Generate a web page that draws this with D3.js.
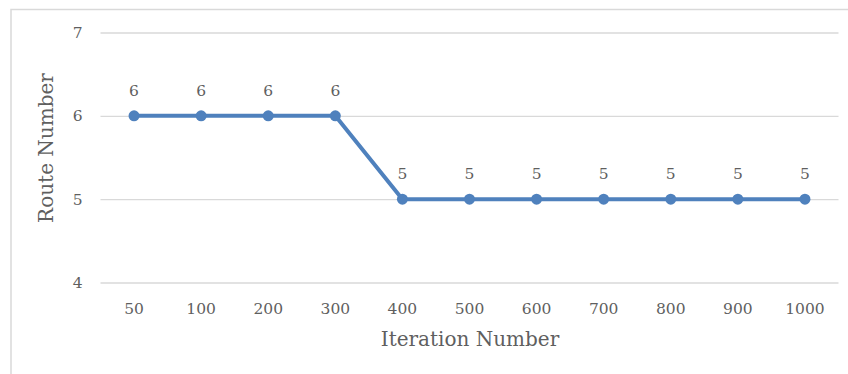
<!DOCTYPE html>
<html>
<head>
<meta charset="utf-8">
<script src="https://cdn.jsdelivr.net/npm/d3@7"></script>
<style>
  html, body { margin: 0; padding: 0; background: #fff; }
  svg { display: block; }
  text { font-family: "DejaVu Serif", "Liberation Serif", serif; fill: #5f5f5f; }
</style>
</head>
<body>
<svg id="chart" width="848" height="374"></svg>
<script>
// Iteration counts and the resulting number of routes
const iterations = ["50", "100", "200", "300", "400", "500", "600", "700", "800", "900", "1000"];
const routeCounts = [6, 6, 6, 6, 5, 5, 5, 5, 5, 5, 5];
const yTicks = [4, 5, 6, 7];

const svg = d3.select("#chart");
const W = 848, H = 374;
const margin = { left: 100.5, right: 9.5, top: 32.5, bottom: 91.5 };
const font = "DejaVu Serif, Liberation Serif, serif";
const tickSize = 15.5;

// Chart frame
svg.append("rect")
  .attr("x", 11).attr("y", 9.5)
  .attr("width", W + 20).attr("height", H + 20)
  .attr("fill", "none").attr("stroke", "#d9d9d9").attr("stroke-width", 1.5);

const x = d3.scaleBand()
  .domain(iterations)
  .range([margin.left, W - margin.right]);

const y = d3.scaleLinear()
  .domain([4, 7])
  .range([H - margin.bottom, margin.top]);

// Horizontal gridlines with value labels
const yAxis = d3.axisLeft(y).tickValues(yTicks).tickFormat(d3.format("d"))
  .tickSize(-(W - margin.right - margin.left)).tickPadding(18);
const gy = svg.append("g").attr("transform", `translate(${margin.left},0)`).call(yAxis);
gy.select(".domain").remove();
gy.selectAll(".tick line").attr("stroke", "#d9d9d9").attr("stroke-width", 1.3);
gy.selectAll(".tick text").attr("font-size", tickSize).attr("fill", "#5f5f5f").attr("font-family", font);

// Category labels
const xAxis = d3.axisBottom(x).tickSize(0).tickPadding(20);
const gx = svg.append("g").attr("transform", `translate(0,${y(4)})`).call(xAxis);
gx.select(".domain").remove();
gx.selectAll(".tick text").attr("font-size", tickSize).attr("fill", "#5f5f5f").attr("font-family", font);

const cx = d => x(d) + x.bandwidth() / 2;
const color = "#4f81bd";

// Series line
svg.append("path")
  .datum(routeCounts)
  .attr("fill", "none")
  .attr("stroke", color)
  .attr("stroke-width", 4)
  .attr("stroke-linejoin", "round")
  .attr("d", d3.line().x((d, i) => cx(iterations[i])).y(d => y(d)));

// Markers
svg.selectAll("circle.pt")
  .data(routeCounts)
  .join("circle")
  .attr("class", "pt")
  .attr("cx", (d, i) => cx(iterations[i]))
  .attr("cy", d => y(d))
  .attr("r", 5.5)
  .attr("fill", color);

// Value labels
svg.selectAll("text.val")
  .data(routeCounts)
  .join("text")
  .attr("class", "val")
  .attr("x", (d, i) => cx(iterations[i]))
  .attr("y", d => y(d) - 20)
  .attr("text-anchor", "middle")
  .attr("font-size", tickSize)
  .text(d => d);

// Axis titles
svg.append("text")
  .attr("x", 470)
  .attr("y", 346)
  .attr("text-anchor", "middle")
  .attr("font-size", 20)
  .text("Iteration Number");

svg.append("text")
  .attr("transform", `translate(53,148) rotate(-90)`)
  .attr("text-anchor", "middle")
  .attr("font-size", 20)
  .text("Route Number");
</script>
</body>
</html>
